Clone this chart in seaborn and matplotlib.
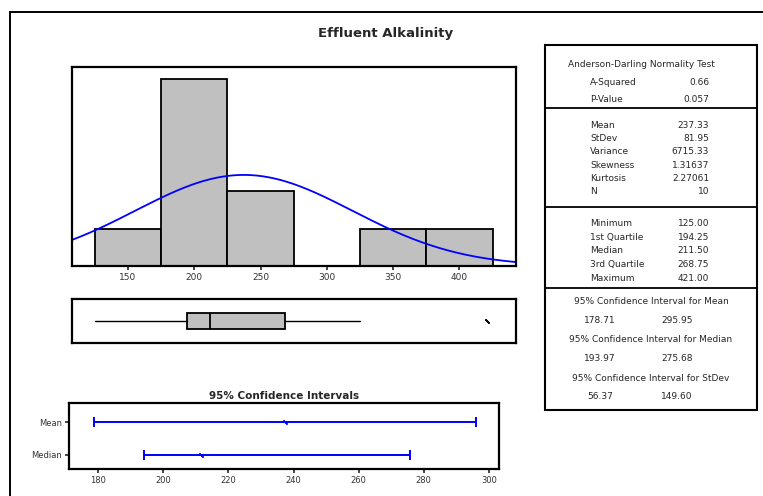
"""
Minitab-style graphical summary for effluent alkalinity, redrawn with seaborn.
"""

import matplotlib

matplotlib.use("Agg")
import matplotlib.pyplot as plt
import numpy as np
import seaborn as sns

W, H = 763, 496
DPI = 100

# ── Data ──────────────────────────────────────────────────────────────────
bin_mids = [150, 200, 250, 300, 350, 400]
bin_counts = [1, 5, 2, 0, 1, 1]
bin_width = 50

n_obs = 10
mean_val = 237.33
sd_val = 81.95

box_min = 125.00
box_q1 = 194.25
box_median = 211.50
box_q3 = 268.75
whisker_hi = 325.0  # largest value inside the fence
outliers = [421.00]

ci_rows = ["Mean", "Median"]
ci_centers = [237.33, 211.50]
ci_low = [178.71, 193.97]
ci_high = [295.95, 275.68]

ad_labels = ["A-Squared", "P-Value"]
ad_values = ["0.66", "0.057"]
desc_labels = ["Mean", "StDev", "Variance", "Skewness", "Kurtosis", "N"]
desc_values = ["237.33", "81.95", "6715.33", "1.31637", "2.27061", "10"]
quart_labels = ["Minimum", "1st Quartile", "Median", "3rd Quartile", "Maximum"]
quart_values = ["125.00", "194.25", "211.50", "268.75", "421.00"]
table_ci_titles = [
    "95% Confidence Interval for Mean",
    "95% Confidence Interval for Median",
    "95% Confidence Interval for StDev",
]
table_ci_values = [("178.71", "295.95"), ("193.97", "275.68"), ("56.37", "149.60")]

BAR_GRAY = "#c0c0c0"
BLUE = "#0000ff"
TICK_COLOR = "#333333"
SMALL = 6.0
TABLE_FS = 6.5


def px_axes(fig, x0, y0, x1, y1):
    # pixel box (top-left origin) -> figure fraction rect
    return fig.add_axes([x0 / W, 1 - y1 / H, (x1 - x0) / W, (y1 - y0) / H])


def frame(ax, lw=1.6):
    for s in ax.spines.values():
        s.set_visible(True)
        s.set_linewidth(lw)
        s.set_color("black")


sns.set_style("white")
plt.rcParams["font.family"] = ["DejaVu Sans"]

fig = plt.figure(figsize=(W / DPI, H / DPI), dpi=DPI)

# background layer in pixel coordinates (outer border + stats table)
bg = fig.add_axes([0, 0, 1, 1], zorder=0)
bg.set_xlim(0, W)
bg.set_ylim(H, 0)
bg.axis("off")
bg.plot([10, W], [12, 12], color="black", lw=1.4)
bg.plot([10, 10], [12, H], color="black", lw=1.4)

bg.text(386, 33, "Effluent Alkalinity", ha="center", va="center",
        fontsize=9.5, fontweight="bold")

# ── Histogram with fitted normal curve ─────────────────────────────────────
ax_h = px_axes(fig, 71.7, 67.3, 515.7, 266)
sns.histplot(x=bin_mids, weights=bin_counts, binwidth=bin_width,
             binrange=(bin_mids[0] - bin_width / 2, bin_mids[-1] + bin_width / 2),
             color=BAR_GRAY, alpha=1, edgecolor="black", linewidth=1.3, ax=ax_h)
xs = np.linspace(107.5, 442.5, 300)
dens = n_obs * bin_width * np.exp(-0.5 * ((xs - mean_val) / sd_val) ** 2) / (sd_val * np.sqrt(2 * np.pi))
sns.lineplot(x=xs, y=dens, color=BLUE, lw=1.3, ax=ax_h)
ax_h.set_xlim(107.5, 442.5)
ax_h.set_ylim(0, 5.31)
ax_h.set_xticks(bin_mids[:-1] + [400])
ax_h.set_yticks([])
ax_h.set_xlabel("")
ax_h.set_ylabel("")
ax_h.tick_params(axis="x", direction="out", length=3, width=1.2, pad=2,
                 labelsize=SMALL + 0.5, labelcolor=TICK_COLOR, bottom=True)
frame(ax_h)

# ── Boxplot ─────────────────────────────────────────────────────────────────
ax_b = px_axes(fig, 71.7, 299.3, 515.7, 342.7)
stats = [{"whislo": box_min, "q1": box_q1, "med": box_median, "q3": box_q3,
          "whishi": whisker_hi, "fliers": outliers}]
ax_b.bxp(stats, orientation="horizontal", widths=0.75, patch_artist=True, showcaps=False,
         boxprops=dict(facecolor=BAR_GRAY, edgecolor="black", linewidth=1.3),
         medianprops=dict(color="black", linewidth=1.3),
         whiskerprops=dict(color="black", linewidth=1.0),
         flierprops=dict(marker=(2, 2, 45), markersize=4, markeredgecolor="black",
                         markeredgewidth=1.2))
ax_b.set_xlim(107.5, 442.5)
ax_b.set_ylim(0.0, 2.0)
ax_b.set_xticks([])
ax_b.set_yticks([])
frame(ax_b)

# ── 95% confidence intervals ────────────────────────────────────────────────
ax_c = px_axes(fig, 69.3, 403.3, 499, 469)
ypos = np.arange(len(ci_rows))
ax_c.errorbar(ci_centers, ypos,
              xerr=[np.array(ci_centers) - np.array(ci_low),
                    np.array(ci_high) - np.array(ci_centers)],
              fmt="none", ecolor=BLUE, elinewidth=1.4, capsize=3.5, capthick=1.4)
sns.scatterplot(x=ci_centers, y=ypos, marker=(2, 2, 45), s=10, color=BLUE,
                linewidth=1.0, ax=ax_c)
ax_c.set_xlim(171.1, 303.1)
ax_c.set_ylim(1.43, -0.58)
ax_c.set_yticks(ypos)
ax_c.set_yticklabels(ci_rows)
ax_c.set_xticks(np.arange(180, 301, 20))
ax_c.tick_params(direction="out", length=3, width=1.2, pad=2,
                 labelsize=SMALL, labelcolor=TICK_COLOR, left=True, bottom=True)
frame(ax_c)
ax_c.set_title("95% Confidence Intervals", fontsize=7.5, fontweight="bold", pad=3)

# ── Summary table (pixel coords on background layer) ───────────────────────
tx0, tx1, ty0, ty1 = 545, 757, 45, 410
bg.add_patch(plt.Rectangle((tx0, ty0), tx1 - tx0, ty1 - ty0, fill=False,
                           edgecolor="black", lw=1.5))
for yy in [108, 207, 288]:
    bg.plot([tx0, tx1], [yy, yy], color="black", lw=1.3)

tc = (tx0 + tx1) / 2
lab_x, val_x = 590, 709
bg.text(tc - 10, 64.7, "Anderson-Darling Normality Test", ha="center", va="center",
        fontsize=TABLE_FS)


def rows(labels, values, y_start, step):
    for i, (lab, val) in enumerate(zip(labels, values)):
        y = y_start + i * step
        bg.text(lab_x, y, lab, ha="left", va="center", fontsize=TABLE_FS)
        bg.text(val_x, y, val, ha="right", va="center", fontsize=TABLE_FS)


rows(ad_labels, ad_values, 82.7, 16.6)
rows(desc_labels, desc_values, 125, 13.34)
rows(quart_labels, quart_values, 223.3, 13.75)

for i, (title, (lo, hi)) in enumerate(zip(table_ci_titles, table_ci_values)):
    y = 301.7 + i * 38.3
    bg.text(tc, y, title, ha="center", va="center", fontsize=TABLE_FS)
    bg.text(600, y + 18.5, lo, ha="center", va="center", fontsize=TABLE_FS)
    bg.text(676.7, y + 18.5, hi, ha="center", va="center", fontsize=TABLE_FS)

fig.savefig("out.png", dpi=DPI)
plt.close(fig)
